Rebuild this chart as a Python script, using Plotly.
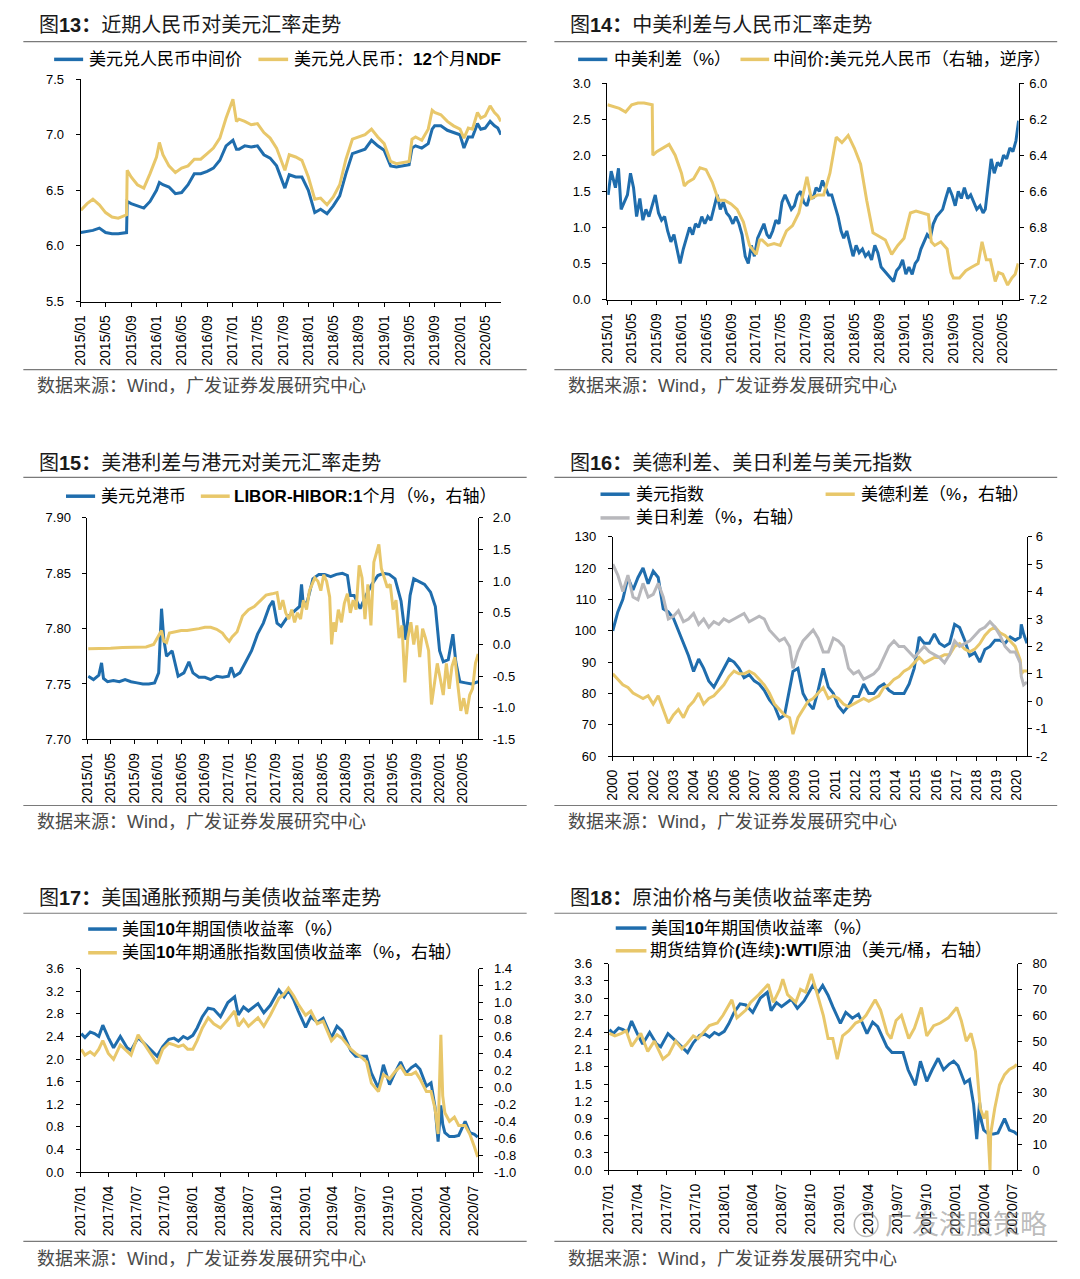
import plotly.graph_objects as go

W, H = 1080, 1279


def px(x):
    return x / W


def py(y):
    return 1 - y / H


# ---------------- data ----------------
# Fig 13 / Fig 14 (right axis): USD/CNY central parity and 12M NDF
cny_dates = ["2015-01-02", "2015-02-01", "2015-03-01", "2015-04-01", "2015-05-01", "2015-06-01", "2015-07-01",
             "2015-08-10", "2015-08-13", "2015-09-01", "2015-10-01", "2015-11-01", "2015-12-01", "2016-01-01",
             "2016-01-15", "2016-02-01", "2016-03-01", "2016-04-01", "2016-05-01", "2016-06-01", "2016-07-01",
             "2016-08-01", "2016-09-01", "2016-10-01", "2016-11-01", "2016-12-01", "2017-01-03", "2017-01-20",
             "2017-02-01", "2017-03-01", "2017-04-01", "2017-05-01", "2017-06-01", "2017-07-01", "2017-08-01",
             "2017-09-10", "2017-10-01", "2017-11-01", "2017-12-01", "2018-01-01", "2018-02-01", "2018-03-01",
             "2018-04-01", "2018-05-01", "2018-06-01", "2018-07-01", "2018-08-01", "2018-09-01", "2018-10-01",
             "2018-11-01", "2018-12-01", "2019-01-01", "2019-02-01", "2019-03-01", "2019-04-01", "2019-05-01",
             "2019-05-15", "2019-06-01", "2019-07-01", "2019-08-01", "2019-08-20", "2019-09-01", "2019-10-01",
             "2019-11-01", "2019-12-01", "2020-01-01", "2020-01-20", "2020-02-10", "2020-03-01", "2020-03-25",
             "2020-04-10", "2020-05-01", "2020-05-25", "2020-06-15", "2020-07-01", "2020-07-16"]
cny_mid = [6.12, 6.13, 6.14, 6.16, 6.12, 6.11, 6.11, 6.12, 6.40, 6.38,
           6.36, 6.34, 6.40, 6.50, 6.57, 6.55, 6.53, 6.47, 6.48, 6.55,
           6.65, 6.65, 6.67, 6.70, 6.77, 6.90, 6.95, 6.87, 6.87, 6.90,
           6.89, 6.90, 6.82, 6.79, 6.72, 6.52, 6.64, 6.62, 6.62, 6.50,
           6.30, 6.33, 6.29, 6.36, 6.45, 6.65, 6.83, 6.85, 6.87, 6.95,
           6.90, 6.86, 6.72, 6.71, 6.72, 6.73, 6.88, 6.90, 6.88, 6.92,
           7.05, 7.08, 7.08, 7.04, 7.02, 7.00, 6.88, 6.98, 6.98, 7.10,
           7.05, 7.06, 7.12, 7.08, 7.06, 7.00]
cny_ndf = [6.32, 6.38, 6.42, 6.37, 6.30, 6.26, 6.25, 6.28, 6.68, 6.62,
           6.55, 6.52, 6.65, 6.80, 6.93, 6.82, 6.72, 6.66, 6.70, 6.72,
           6.78, 6.78, 6.83, 6.88, 6.97, 7.15, 7.32, 7.12, 7.14, 7.12,
           7.09, 7.10, 7.02, 6.97, 6.88, 6.68, 6.82, 6.80, 6.77, 6.62,
           6.42, 6.43, 6.37, 6.44, 6.55, 6.78, 6.96, 6.98, 7.00, 7.05,
           6.98, 6.92, 6.76, 6.74, 6.75, 6.76, 6.96, 6.98, 6.95, 7.05,
           7.22, 7.20, 7.18, 7.12, 7.08, 7.05, 6.97, 7.06, 7.05, 7.20,
           7.15, 7.17, 7.26, 7.20, 7.17, 7.12]

# Fig 14: China-US yield spread
spread_dates = ["2015-01-05", "2015-01-20", "2015-02-10", "2015-02-25", "2015-03-10", "2015-03-25", "2015-04-10",
                "2015-04-25", "2015-05-10", "2015-05-25", "2015-06-10", "2015-06-25", "2015-07-10", "2015-07-25",
                "2015-08-10", "2015-08-25", "2015-09-10", "2015-09-25", "2015-10-10", "2015-10-25", "2015-11-10",
                "2015-11-25", "2015-12-10", "2015-12-25", "2016-01-10", "2016-01-25", "2016-02-10", "2016-02-25",
                "2016-03-10", "2016-03-25", "2016-04-10", "2016-04-25", "2016-05-10", "2016-05-25", "2016-06-10",
                "2016-06-25", "2016-07-10", "2016-07-25", "2016-08-10", "2016-08-25", "2016-09-10", "2016-09-25",
                "2016-10-10", "2016-10-25", "2016-11-10", "2016-11-25", "2016-12-10", "2016-12-25", "2017-01-10",
                "2017-01-25", "2017-02-10", "2017-02-25", "2017-03-10", "2017-03-25", "2017-04-10", "2017-04-25",
                "2017-05-10", "2017-05-25", "2017-06-10", "2017-06-25", "2017-07-10", "2017-07-25", "2017-08-10",
                "2017-08-25", "2017-09-10", "2017-09-25", "2017-10-10", "2017-10-25", "2017-11-10", "2017-11-25",
                "2017-12-10", "2017-12-25", "2018-01-10", "2018-01-25", "2018-02-10", "2018-02-25", "2018-03-10",
                "2018-03-25", "2018-04-10", "2018-04-25", "2018-05-10", "2018-05-25", "2018-06-10", "2018-06-25",
                "2018-07-10", "2018-07-25", "2018-08-10", "2018-08-25", "2018-09-10", "2018-09-25", "2018-10-10",
                "2018-10-25", "2018-11-10", "2018-11-25", "2018-12-10", "2018-12-25", "2019-01-10", "2019-01-25",
                "2019-02-10", "2019-02-25", "2019-03-10", "2019-03-25", "2019-04-10", "2019-04-25", "2019-05-10",
                "2019-05-25", "2019-06-10", "2019-06-25", "2019-07-10", "2019-07-25", "2019-08-10", "2019-08-25",
                "2019-09-10", "2019-09-25", "2019-10-10", "2019-10-25", "2019-11-10", "2019-11-25", "2019-12-10",
                "2019-12-25", "2020-01-10", "2020-01-25", "2020-02-05", "2020-02-20", "2020-03-05", "2020-03-20",
                "2020-04-05", "2020-04-20", "2020-05-05", "2020-05-20", "2020-06-05", "2020-06-20", "2020-07-05",
                "2020-07-18"]
cn_us_spread = [1.45, 1.78, 1.55, 1.82, 1.25, 1.35, 1.45, 1.75, 1.55, 1.15,
                1.40, 1.10, 1.25, 1.15, 1.30, 1.45, 1.20, 1.10, 1.15, 0.95,
                0.80, 0.90, 0.70, 0.50, 0.70, 0.85, 1.00, 0.90, 1.05, 1.00,
                1.15, 1.05, 1.15, 1.10, 1.30, 1.45, 1.25, 1.35, 1.20, 1.15,
                1.05, 1.15, 1.05, 0.90, 0.60, 0.50, 0.75, 0.60, 0.85, 0.95,
                1.05, 0.90, 0.85, 0.95, 1.10, 1.05, 1.35, 1.45, 1.35, 1.25,
                1.30, 1.45, 1.50, 1.35, 1.30, 1.45, 1.40, 1.55, 1.50, 1.65,
                1.55, 1.45, 1.45, 1.30, 1.15, 0.95, 0.85, 0.95, 0.75, 0.60,
                0.75, 0.65, 0.70, 0.60, 0.65, 0.55, 0.75, 0.65, 0.45, 0.40,
                0.35, 0.30, 0.25, 0.40, 0.45, 0.55, 0.35, 0.45, 0.35, 0.50,
                0.55, 0.70, 0.80, 0.90, 0.85, 1.05, 1.15, 1.20, 1.25, 1.40,
                1.55, 1.45, 1.30, 1.50, 1.40, 1.55, 1.40, 1.45, 1.35, 1.25,
                1.30, 1.20, 1.25, 1.60, 1.95, 1.75, 1.90, 1.85, 2.00, 1.95,
                2.10, 2.05, 2.20, 2.48]

# Fig 15: USD/HKD and LIBOR-HIBOR 1M
hkd_dates = ["2015-01-05", "2015-02-01", "2015-03-01", "2015-03-15", "2015-03-25", "2015-04-15", "2015-05-15",
             "2015-06-15", "2015-07-15", "2015-08-15", "2015-09-15", "2015-10-15", "2015-11-15", "2015-12-15",
             "2016-01-05", "2016-01-20", "2016-02-01", "2016-02-15", "2016-03-15", "2016-04-15", "2016-05-15",
             "2016-06-10", "2016-07-01", "2016-08-01", "2016-09-01", "2016-10-01", "2016-11-01", "2016-12-01",
             "2017-01-01", "2017-01-15", "2017-02-01", "2017-03-01", "2017-04-01", "2017-05-01", "2017-06-01",
             "2017-07-01", "2017-08-01", "2017-08-20", "2017-09-10", "2017-10-01", "2017-11-01", "2017-12-01",
             "2018-01-05", "2018-01-15", "2018-01-25", "2018-02-15", "2018-03-15", "2018-04-15", "2018-05-15",
             "2018-06-15", "2018-07-15", "2018-08-15", "2018-09-10", "2018-09-25", "2018-10-15", "2018-11-15",
             "2018-12-15", "2019-01-15", "2019-02-15", "2019-03-15", "2019-04-15", "2019-05-15", "2019-06-15",
             "2019-07-10", "2019-08-01", "2019-08-20", "2019-09-15", "2019-10-15", "2019-11-15", "2019-12-10",
             "2020-01-01", "2020-01-20", "2020-02-15", "2020-03-10", "2020-03-25", "2020-04-15", "2020-05-15",
             "2020-06-15", "2020-07-19"]
usd_hkd = [7.757, 7.754, 7.758, 7.769, 7.755, 7.752, 7.753, 7.752, 7.754, 7.752,
           7.751, 7.750, 7.750, 7.751, 7.760, 7.818, 7.790, 7.775, 7.780, 7.757,
           7.760, 7.770, 7.760, 7.756, 7.756, 7.754, 7.757, 7.756, 7.757, 7.765,
           7.757, 7.760, 7.770, 7.780, 7.795, 7.805, 7.820, 7.825, 7.805, 7.802,
           7.810, 7.815, 7.820, 7.840, 7.820, 7.825, 7.845, 7.849, 7.849, 7.847,
           7.849, 7.850, 7.848, 7.830, 7.830, 7.818, 7.830, 7.840, 7.848, 7.850,
           7.849, 7.845, 7.825, 7.790, 7.830, 7.845, 7.843, 7.840, 7.833, 7.820,
           7.780, 7.770, 7.772, 7.795, 7.770, 7.752, 7.751, 7.750, 7.752]
libor_dates = ["2015-01-05", "2015-03-01", "2015-05-01", "2015-07-01", "2015-09-01", "2015-11-01", "2015-12-10",
               "2016-01-05", "2016-01-20", "2016-02-01", "2016-02-15", "2016-03-01", "2016-04-01", "2016-05-01",
               "2016-06-01", "2016-07-01", "2016-08-01", "2016-09-01", "2016-10-01", "2016-11-01", "2016-12-01",
               "2016-12-20", "2017-01-05", "2017-01-20", "2017-02-15", "2017-03-15", "2017-04-15", "2017-05-15",
               "2017-06-15", "2017-07-15", "2017-08-15", "2017-09-10", "2017-09-25", "2017-10-10", "2017-10-25",
               "2017-11-10", "2017-11-25", "2017-12-10", "2017-12-25", "2018-01-10", "2018-01-25", "2018-02-10",
               "2018-02-25", "2018-03-10", "2018-03-25", "2018-04-10", "2018-04-25", "2018-05-10", "2018-05-25",
               "2018-06-10", "2018-06-20", "2018-06-30", "2018-07-10", "2018-07-25", "2018-08-10", "2018-08-25",
               "2018-09-10", "2018-09-25", "2018-10-10", "2018-10-25", "2018-11-10", "2018-11-25", "2018-12-10",
               "2018-12-25", "2019-01-10", "2019-01-25", "2019-02-10", "2019-02-20", "2019-03-05", "2019-03-20",
               "2019-04-05", "2019-04-20", "2019-05-05", "2019-05-20", "2019-06-05", "2019-06-20", "2019-07-05",
               "2019-07-20", "2019-08-05", "2019-08-20", "2019-09-05", "2019-09-20", "2019-10-05", "2019-10-20",
               "2019-11-05", "2019-11-20", "2019-12-05", "2019-12-20", "2020-01-05", "2020-01-20", "2020-02-05",
               "2020-02-20", "2020-03-05", "2020-03-20", "2020-04-05", "2020-04-20", "2020-05-05", "2020-05-20",
               "2020-06-05", "2020-06-20", "2020-07-05", "2020-07-19"]
libor_hibor = [-0.07, -0.06, -0.06, -0.05, -0.05, -0.04, 0.00, 0.15, 0.22, 0.05,
               0.03, 0.18, 0.20, 0.22, 0.22, 0.23, 0.25, 0.27, 0.27, 0.24,
               0.18, 0.10, 0.05, 0.12, 0.20, 0.45, 0.55, 0.60, 0.70, 0.78,
               0.80, 0.82, 0.55, 0.70, 0.50, 0.40, 0.55, 0.35, 0.50, 0.40,
               0.70, 0.55, 0.85, 0.95, 1.05, 1.00, 0.85, 1.10, 1.00, 0.75,
               0.00, 0.35, 0.20, 0.55, 0.35, 0.65, 0.80, 0.50, 0.70, 0.55,
               1.25, 1.05, 0.40, 0.95, 0.30, 1.30, 1.45, 1.58, 1.20, 1.05,
               0.90, 0.95, 0.55, 0.70, 0.10, 0.30, -0.60, 0.10, 0.35, 0.00,
               0.30, -0.20, 0.25, 0.10, -0.10, -0.95, -0.60, -0.30, -0.55, -0.80,
               -0.30, -0.70, -0.35, -0.20, -0.65, -1.05, -0.85, -1.10, -0.80, -0.70,
               -0.30, -0.15]

# Fig 16: dollar index, US-Germany and US-Japan spreads
dxy_dates = ["2000-01-01", "2000-04-01", "2000-07-01", "2000-10-01", "2001-01-01", "2001-04-01", "2001-07-01",
             "2001-10-01", "2002-01-01", "2002-04-01", "2002-07-01", "2002-10-01", "2003-01-01", "2003-04-01",
             "2003-07-01", "2003-10-01", "2004-01-01", "2004-04-01", "2004-07-01", "2004-10-01", "2005-01-01",
             "2005-04-01", "2005-07-01", "2005-10-01", "2006-01-01", "2006-04-01", "2006-07-01", "2006-10-01",
             "2007-01-01", "2007-04-01", "2007-07-01", "2007-10-01", "2008-01-01", "2008-04-01", "2008-07-01",
             "2008-10-01", "2008-12-01", "2009-03-01", "2009-06-01", "2009-09-01", "2009-12-01", "2010-03-01",
             "2010-06-01", "2010-09-01", "2010-12-01", "2011-03-01", "2011-06-01", "2011-09-01", "2011-12-01",
             "2012-03-01", "2012-06-01", "2012-09-01", "2012-12-01", "2013-03-01", "2013-06-01", "2013-09-01",
             "2013-12-01", "2014-03-01", "2014-06-01", "2014-09-01", "2014-12-01", "2015-03-01", "2015-06-01",
             "2015-09-01", "2015-12-01", "2016-03-01", "2016-06-01", "2016-09-01", "2016-12-01", "2017-03-01",
             "2017-06-01", "2017-09-01", "2017-12-01", "2018-03-01", "2018-06-01", "2018-09-01", "2018-12-01",
             "2019-03-01", "2019-06-01", "2019-09-01", "2019-12-01", "2020-03-01", "2020-03-20", "2020-05-01",
             "2020-07-01"]
dxy = [100, 106, 110, 117, 113, 117, 120, 115, 119, 117, 107, 106,
       104, 100, 96, 92, 87, 91, 88, 84, 82, 85, 88, 91,
       90, 88, 85, 86, 84, 83, 81, 78, 76, 72, 73, 82,
       87,
       88, 80, 77, 75, 81, 88, 82, 80, 76, 74, 76, 79,
       79, 83, 80, 80, 82, 83, 81, 80, 80, 80, 83, 88,
       98, 96, 96, 99, 96, 95, 96, 102, 101, 97, 92, 93,
       90, 94, 95, 97, 97, 96, 98, 97,
       98, 102, 99, 96]
us_de_spread = [1.0, 0.8, 0.6, 0.5, 0.3, 0.2, 0.1, 0.2, -0.1, 0.2, -0.3, -0.8,
                -0.5, -0.3, -0.6, -0.2, 0.0, 0.3, -0.1, 0.1, 0.2, 0.4, 0.6, 0.9,
                1.1, 1.0, 1.0, 1.1, 1.0, 0.8, 0.6, 0.3, -0.1, -0.3, -0.5, -0.6,
                -1.2,
                -0.6, -0.3, 0.0, 0.1, 0.3, 0.5, 0.1, 0.2, 0.1, -0.1, -0.2, -0.1,
                0.0, 0.1, 0.0, 0.1, 0.2, 0.5, 0.6, 0.8, 0.9, 1.1, 1.2, 1.4,
                1.6, 1.4, 1.5, 1.6, 1.6, 1.7, 1.7, 2.0, 2.1, 1.9, 1.8, 1.9,
                2.1, 2.4, 2.6, 2.7, 2.5, 2.4, 2.2, 2.0,
                1.5, 1.0, 1.1, 1.1]
us_jp_spread = [5.0, 4.6, 4.0, 4.6, 3.8, 3.7, 4.3, 3.8, 3.9, 4.3, 3.8, 3.0,
                3.1, 3.3, 2.9, 3.0, 3.2, 2.8, 3.0, 2.7, 2.9, 2.8, 3.0, 2.9,
                3.0, 3.1, 3.2, 2.9, 3.0, 3.1, 3.0, 2.6, 2.4, 2.2, 2.3, 2.0,
                1.2,
                1.8, 2.2, 2.4, 2.6, 2.3, 1.8, 1.8, 2.3, 2.2, 2.0, 1.2, 1.0,
                1.1, 0.8, 0.9, 1.0, 1.2, 1.6, 2.0, 2.2, 2.0, 2.0, 1.8, 1.6,
                1.8, 2.0, 1.8, 1.7, 1.6, 1.4, 1.7, 2.2, 2.0, 2.1, 2.2, 2.4,
                2.6, 2.7, 2.9, 2.7, 2.4, 2.0, 1.8, 1.8,
                1.4, 0.9, 0.6, 0.7]

# Fig 17 / Fig 18: US 10Y yield, 10Y TIPS yield, WTI
ust_dates = ["2017-01-03", "2017-01-15", "2017-02-01", "2017-02-15", "2017-03-01", "2017-03-14", "2017-04-01",
             "2017-04-18", "2017-05-10", "2017-06-01", "2017-06-14", "2017-07-07", "2017-08-01", "2017-09-07",
             "2017-09-25", "2017-10-15", "2017-11-01", "2017-11-15", "2017-12-01", "2017-12-15", "2018-01-01",
             "2018-01-15", "2018-02-01", "2018-02-20", "2018-03-10", "2018-04-01", "2018-04-25", "2018-05-17",
             "2018-05-29", "2018-06-15", "2018-07-01", "2018-08-01", "2018-08-20", "2018-09-10", "2018-10-08",
             "2018-10-25", "2018-11-08", "2018-11-25", "2018-12-10", "2019-01-03", "2019-01-20", "2019-02-10",
             "2019-03-01", "2019-03-28", "2019-04-15", "2019-05-01", "2019-05-30", "2019-06-15", "2019-07-05",
             "2019-07-20", "2019-08-05", "2019-08-28", "2019-09-13", "2019-10-03", "2019-10-20", "2019-11-08",
             "2019-11-25", "2019-12-13", "2019-12-27", "2020-01-10", "2020-01-31", "2020-02-15", "2020-02-28",
             "2020-03-09", "2020-03-18", "2020-03-24", "2020-03-31", "2020-04-15", "2020-05-01", "2020-05-15",
             "2020-06-05", "2020-06-20", "2020-07-05", "2020-07-16"]
ust10y = [2.45, 2.38, 2.48, 2.45, 2.40, 2.60, 2.38, 2.20, 2.40, 2.20,
          2.15, 2.38, 2.25, 2.05, 2.22, 2.35, 2.37, 2.32, 2.40, 2.36,
          2.42, 2.55, 2.75, 2.90, 2.88, 2.75, 3.00, 3.10, 2.78, 2.92,
          2.85, 2.98, 2.82, 2.95, 3.22, 3.10, 3.22, 3.05, 2.85, 2.56,
          2.75, 2.65, 2.72, 2.38, 2.58, 2.50, 2.15, 2.05, 2.05, 2.05,
          1.75, 1.48, 1.90, 1.55, 1.75, 1.95, 1.75, 1.85, 1.90, 1.82,
          1.52, 1.58, 1.15, 0.54, 1.18, 0.85, 0.70, 0.63, 0.63, 0.65,
          0.90, 0.70, 0.67, 0.62]
tips10y = [0.45, 0.38, 0.42, 0.38, 0.45, 0.55, 0.40, 0.33, 0.50, 0.42,
           0.38, 0.62, 0.48, 0.28, 0.45, 0.52, 0.50, 0.48, 0.50, 0.45,
           0.45, 0.55, 0.70, 0.82, 0.75, 0.70, 0.80, 0.90, 0.72, 0.80,
           0.72, 0.82, 0.72, 0.85, 1.05, 1.10, 1.17, 1.08, 0.98, 0.85,
           0.90, 0.75, 0.78, 0.55, 0.62, 0.58, 0.45, 0.40, 0.35, 0.30,
           0.05, -0.05, 0.15, 0.10, 0.18, 0.25, 0.15, 0.15, 0.18, 0.10,
           -0.05, -0.05, -0.25, -0.55, 0.62, -0.10, -0.30, -0.40, -0.35, -0.45,
           -0.45, -0.55, -0.70, -0.82]
wti_dates = ["2017-01-03", "2017-01-20", "2017-02-10", "2017-02-25", "2017-03-14", "2017-04-12", "2017-05-04",
             "2017-05-25", "2017-06-21", "2017-07-10", "2017-07-31", "2017-08-20", "2017-09-05", "2017-09-25",
             "2017-10-10", "2017-10-30", "2017-11-15", "2017-12-10", "2017-12-28", "2018-01-25", "2018-02-10",
             "2018-03-10", "2018-03-25", "2018-04-20", "2018-05-20", "2018-06-05", "2018-06-25", "2018-07-05",
             "2018-07-20", "2018-08-15", "2018-08-30", "2018-09-15", "2018-10-03", "2018-10-20", "2018-11-10",
             "2018-11-25", "2018-12-10", "2018-12-24", "2019-01-10", "2019-01-30", "2019-02-20", "2019-03-10",
             "2019-03-25", "2019-04-23", "2019-05-10", "2019-05-31", "2019-06-12", "2019-06-28", "2019-07-15",
             "2019-08-07", "2019-08-25", "2019-09-16", "2019-10-03", "2019-10-25", "2019-11-15", "2019-12-10",
             "2020-01-06", "2020-01-20", "2020-02-05", "2020-02-20", "2020-03-05", "2020-03-20", "2020-04-01",
             "2020-04-10", "2020-04-20", "2020-04-22", "2020-05-05", "2020-05-20", "2020-06-05", "2020-06-20",
             "2020-07-05", "2020-07-14"]
wti = [53, 52, 53, 54, 48, 53, 46, 50, 43, 45,
       50, 47, 49, 52, 51, 54, 56, 57, 60, 66,
       59, 62, 65, 68, 72, 65, 70, 74, 68, 65,
       70, 69, 76, 69, 60, 51, 51, 43, 52, 54,
       57, 58, 60, 66, 62, 53, 51, 58, 60, 51,
       55, 63, 52, 56, 57, 59, 63, 58, 50, 53,
       46, 24, 20, 23, 0, 14, 24, 33, 37, 39,
       40, 41]

# tick labels
ticks_15_20 = ["2015/01", "2015/05", "2015/09", "2016/01", "2016/05", "2016/09", "2017/01", "2017/05", "2017/09",
               "2018/01", "2018/05", "2018/09", "2019/01", "2019/05", "2019/09", "2020/01", "2020/05"]
ticks_years = [str(y) for y in range(2000, 2021)]
ticks_17_20 = ["2017/01", "2017/04", "2017/07", "2017/10", "2018/01", "2018/04", "2018/07", "2018/10",
               "2019/01", "2019/04", "2019/07", "2019/10", "2020/01", "2020/04", "2020/07"]
y13 = ["5.5", "6.0", "6.5", "7.0", "7.5"]
y14l = ["0.0", "0.5", "1.0", "1.5", "2.0", "2.5", "3.0"]
y14r = ["6.0", "6.2", "6.4", "6.6", "6.8", "7.0", "7.2"]
y15l = ["7.70", "7.75", "7.80", "7.85", "7.90"]
y15r = ["-1.5", "-1.0", "-0.5", "0.0", "0.5", "1.0", "1.5", "2.0"]
y16l = ["60", "70", "80", "90", "100", "110", "120", "130"]
y16r = ["-2", "-1", "0", "1", "2", "3", "4", "5", "6"]
y17l = ["0.0", "0.4", "0.8", "1.2", "1.6", "2.0", "2.4", "2.8", "3.2", "3.6"]
y17r = ["-1.0", "-0.8", "-0.6", "-0.4", "-0.2", "0.0", "0.2", "0.4", "0.6", "0.8", "1.0", "1.2", "1.4"]
y18l = ["0.0", "0.3", "0.6", "0.9", "1.2", "1.5", "1.8", "2.1", "2.4", "2.7", "3.0", "3.3", "3.6"]
y18r = ["0", "10", "20", "30", "40", "50", "60", "70", "80"]

# ---------------- figure ----------------
BLUE = "#1f6dad"
YELLOW = "#e8c76a"
GREY = "#b8b8bc"
LW = 3
LATIN = "Liberation Sans"
CJK = "Liberation Sans, Noto Sans CJK SC"

fig = go.Figure()


def add(x, y, color, xa, ya):
    fig.add_trace(go.Scatter(x=x, y=y, mode="lines", line=dict(color=color, width=LW),
                             xaxis=xa, yaxis=ya, showlegend=False, hoverinfo="skip"))


add(cny_dates, cny_mid, BLUE, "x", "y")
add(cny_dates, cny_ndf, YELLOW, "x", "y")
add(spread_dates, cn_us_spread, BLUE, "x2", "y2")
add(cny_dates, cny_mid, YELLOW, "x2", "y3")
add(hkd_dates, usd_hkd, BLUE, "x3", "y4")
add(libor_dates, libor_hibor, YELLOW, "x3", "y5")
add(dxy_dates, dxy, BLUE, "x4", "y6")
add(dxy_dates, us_de_spread, YELLOW, "x4", "y7")
add(dxy_dates, us_jp_spread, GREY, "x4", "y7")
add(ust_dates, ust10y, BLUE, "x5", "y8")
add(ust_dates, tips10y, YELLOW, "x5", "y9")
add(ust_dates, ust10y, BLUE, "x6", "y10")
add(wti_dates, wti, YELLOW, "x6", "y11")

# panel boxes in pixels: (left, right, top, bottom)
boxes = {
    13: (73.4, 498.0, 73, 298),
    14: (605.5, 1021.0, 77, 296),
    15: (80.3, 475.0, 517, 741),
    16: (611.0, 1029.7, 536, 758),
    17: (73.4, 475.2, 973, 1179),
    18: (607.0, 1019.3, 968, 1177),
}


def tickdate(s):
    v = s.replace("/", "-")
    return v + "-01" if len(v) == 7 else v + "-01-01"


def xax(box, anchor, rng, labels):
    return dict(domain=[px(box[0]), px(box[1])], anchor=anchor, type="date", range=rng,
                tickmode="array", tickvals=[tickdate(s) for s in labels], ticktext=labels,
                tickangle=-90, showline=True, linecolor="black", linewidth=1, ticks="outside",
                ticklen=4, tickcolor="black", tickwidth=1,
                tickfont=dict(family=LATIN, size=14, color="black"),
                showgrid=False, zeroline=False, ticklabelstandoff=3, fixedrange=True)


def yax(box, anchor, labels, rng, side="left", overlaying=None, standoff=9):
    d = dict(anchor=anchor, range=rng, tickmode="array", tickvals=[float(s) for s in labels],
             ticktext=labels, showline=True, linecolor="black", linewidth=1, ticks="outside",
             ticklen=4, tickcolor="black", tickwidth=1,
             tickfont=dict(family=LATIN, size=13, color="black"),
             showgrid=False, zeroline=False, side=side, ticklabelstandoff=standoff, fixedrange=True)
    if overlaying:
        d["overlaying"] = overlaying
    else:
        d["domain"] = [py(box[3]), py(box[2])]
    return d


layout = dict(
    width=W, height=H, margin=dict(l=0, r=0, t=0, b=0),
    paper_bgcolor="white", plot_bgcolor="white", showlegend=False,
    xaxis=xax(boxes[13], "y", ["2015-01-01", "2020-07-16"], ticks_15_20),
    yaxis=yax(boxes[13], "x", y13, [5.5, 7.5]),
    xaxis2=xax(boxes[14], "y2", ["2015-01-01", "2020-07-18"], ticks_15_20),
    yaxis2=yax(boxes[14], "x2", y14l, [0, 3.0]),
    yaxis3=yax(boxes[14], "x2", y14r, [7.2, 6.0], side="right", overlaying="y2", standoff=3),
    xaxis3=xax(boxes[15], "y4", ["2015-01-01", "2020-07-19"], ticks_15_20),
    yaxis4=yax(boxes[15], "x3", y15l, [7.70, 7.90]),
    yaxis5=yax(boxes[15], "x3", y15r, [-1.5, 2.0], side="right", overlaying="y4", standoff=7),
    xaxis4=xax(boxes[16], "y6", ["2000-01-01", "2020-07-05"], ticks_years),
    yaxis6=yax(boxes[16], "x4", y16l, [60, 130]),
    yaxis7=yax(boxes[16], "x4", y16r, [-2, 6], side="right", overlaying="y6", standoff=1),
    xaxis5=xax(boxes[17], "y8", ["2017-01-01", "2020-07-18"], ticks_17_20),
    yaxis8=yax(boxes[17], "x5", y17l, [0, 3.6]),
    yaxis9=yax(boxes[17], "x5", y17r, [-1.0, 1.4], side="right", overlaying="y8", standoff=8),
    xaxis6=xax(boxes[18], "y10", ["2017-01-01", "2020-07-14"], ticks_17_20),
    yaxis10=yax(boxes[18], "x6", y18l, [0, 3.6]),
    yaxis11=yax(boxes[18], "x6", y18r, [0, 80], side="right", overlaying="y10", standoff=8),
)
fig.update_layout(**layout)

shapes = []
annotations = []


def hline(x0, x1, y, color="#7a7a7a", width=1.2):
    shapes.append(dict(type="line", xref="paper", yref="paper", x0=px(x0), x1=px(x1),
                       y0=py(y), y1=py(y), line=dict(color=color, width=width)))


def text(x, y, s, size, color="black", family=CJK, anchor="left"):
    annotations.append(dict(xref="paper", yref="paper", x=px(x), y=py(y), text=s, showarrow=False,
                            xanchor=anchor, yanchor="middle",
                            font=dict(family=family, size=size, color=color)))


def legend_item(x0, x1, y, color, label, tx):
    hline(x0, x1, y, color=color, width=3.5)
    text(tx, y, label, 17)


# column rules and source lines
cols = [(15.5, 524.0, 27.6), (552.0, 1060.0, 564.0)]
rows = [(35, 367, 383), (476, 808, 825), (917, 1249, 1267)]
for (cx0, cx1, sx) in cols:
    for (rt, rb, sy) in rows:
        hline(cx0, cx1, rt)
        hline(cx0, cx1, rb)
        text(sx, sy, "数据来源：Wind，广发证券发展研究中心", 18, color="#4a4a4a")

# titles
text(29, 18, "图<b>13：</b>近期人民币对美元汇率走势", 20, color="#1a1a1a")
text(566, 18, "图<b>14：</b>中美利差与人民币汇率走势", 20, color="#1a1a1a")
text(29, 461, "图<b>15：</b>美港利差与港元对美元汇率走势", 20, color="#1a1a1a")
text(566, 461, "图<b>16：</b>美德利差、美日利差与美元指数", 20, color="#1a1a1a")
text(29, 902, "图<b>17：</b>美国通胀预期与美债收益率走势", 20, color="#1a1a1a")
text(566, 902, "图<b>18：</b>原油价格与美债收益率走势", 20, color="#1a1a1a")

# legends
legend_item(46.6, 75.9, 53, BLUE, "美元兑人民币中间价", 80)
legend_item(253, 283, 53, YELLOW, "美元兑人民币：<b>12</b>个月<b>NDF</b>", 287)
legend_item(576, 605.5, 53, BLUE, "中美利差（%）", 610)
legend_item(740, 769, 53, YELLOW, "中间价<b>:</b>美元兑人民币（右轴，逆序）", 771)
legend_item(58.6, 88, 495, BLUE, "美元兑港币", 92)
legend_item(194.8, 224, 495, YELLOW, "<b>LIBOR-HIBOR:1</b>个月（%，右轴）", 226)
legend_item(598.6, 628, 493, BLUE, "美元指数", 632)
legend_item(826, 855.5, 493, YELLOW, "美德利差（%，右轴）", 860)
legend_item(598.6, 628, 517, GREY, "美日利差（%，右轴）", 632)
legend_item(81, 110, 933, BLUE, "美国<b>10</b>年期国债收益率（%）", 113)
legend_item(81, 110, 957, YELLOW, "美国<b>10</b>年期通胀指数国债收益率（%，右轴）", 113)
legend_item(614, 645, 932, BLUE, "美国<b>10</b>年期国债收益率（%）", 648)
legend_item(614, 645, 955, YELLOW, "期货结算价<b>(</b>连续<b>):WTI</b>原油（美元/桶，右轴）", 647)

# watermark
shapes.append(dict(type="circle", xref="paper", yref="paper", x0=px(855), x1=px(879),
                   y0=py(1244), y1=py(1220), line=dict(color="rgba(140,140,140,0.6)", width=1.5)))
text(884, 1232, "广发港股策略", 27, color="rgba(130,130,130,0.55)")

fig.update_layout(shapes=shapes, annotations=annotations)
fig.write_html("out.html", config={"displayModeBar": False, "staticPlot": True},
               post_script="document.body.style.margin='0px';document.body.style.overflow='hidden';")
